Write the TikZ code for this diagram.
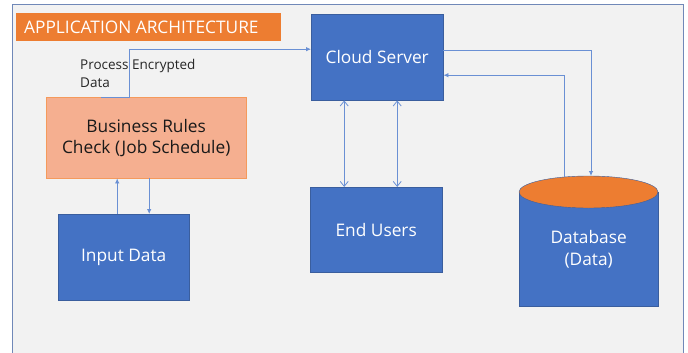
\documentclass[tikz,border=0pt]{standalone}
\usepackage{fontspec}
\setmainfont{Open Sans}
\usetikzlibrary{positioning}
\usetikzlibrary{arrows.meta}
\usetikzlibrary{shapes.geometric}

\definecolor{boxblue}{HTML}{4472C4}
\definecolor{boxedge}{HTML}{3A5E9E}
\definecolor{archorange}{HTML}{ED7D31}
\definecolor{rulesfill}{HTML}{F5AF90}
\definecolor{rulesedge}{HTML}{F59A5C}
\definecolor{linkblue}{HTML}{6A90D4}
\definecolor{panelgray}{HTML}{F2F2F2}
\definecolor{paneledge}{HTML}{7088B8}

\begin{document}
\begin{tikzpicture}[x=1pt, y=-1pt,
    bluebox/.style={rectangle, inner sep=0pt, draw=boxedge, fill=boxblue, text=white, align=center, font=\fontsize{17.3}{22}\selectfont},
    flow/.style={draw=linkblue, line width=0.8pt, -{Latex[length=5pt,width=4.5pt]}},
    twoway/.style={draw=linkblue, line width=0.8pt, {Straight Barb[length=5pt,width=8pt]}-{Straight Barb[length=5pt,width=8pt]}}]
    \useasboundingbox (0,0) rectangle (688,353);

    % panel
    \fill[panelgray] (12,5) rectangle (683,360);
    \draw[paneledge, line width=1pt] (12,360) -- (12,5) -- (683,5) -- (683,360);

    \node (title) [rectangle, anchor=north west, minimum width=265pt, minimum height=28pt, inner sep=0pt, fill=archorange] at (16,13) {};
    \node (titletext) [anchor=west, inner sep=0pt, text=white, font=\fontsize{17.3}{20}\selectfont] at (24,27) {APPLICATION ARCHITECTURE};

    \node (busi) [rectangle, anchor=north west, minimum width=200pt, minimum height=81pt, inner sep=0pt, draw=rulesedge, fill=rulesfill, text=black!90, align=center, font=\fontsize{17.3}{21}\selectfont] at (46,97) {Business Rules\\Check (Job Schedule)};
    \node (input) [bluebox, anchor=north west, minimum width=131pt, minimum height=86pt] at (58,214) {Input Data};
    \node (cloud) [bluebox, anchor=north west, minimum width=132pt, minimum height=86pt] at (311,14) {Cloud Server};
    \node (users) [bluebox, anchor=north west, minimum width=132pt, minimum height=85pt] at (310,187) {End Users};

    \node (db) [bluebox, anchor=north west, minimum width=139pt, minimum height=114pt] at (519,192) {Database\\(Data)};
    \node (dbtop) [ellipse, minimum width=139pt, minimum height=32pt, inner sep=0pt, draw=boxedge, fill=archorange] at (588.5,192) {};

    \node (proc) [anchor=north west, inner sep=0pt, align=left, text=black!85, font=\fontsize{13.5}{18}\selectfont] at (80,59) {Process Encrypted\\Data};

    \coordinate (procstart) at (101,97);
    \coordinate (procbend) at (129,97);
    \coordinate (dbin) at (591,176);
    \coordinate (dbout) at (564,177);

    \draw [flow] (procstart) -- (procbend) |- ([yshift=8pt]cloud.west);

    \draw [flow] ([xshift=-6.5pt]input.north) -- ([xshift=-6.5pt]input.north |- busi.south);
    \draw [flow] ([xshift=3pt]busi.south) -- ([xshift=3pt]busi.south |- input.north);

    \draw [twoway] ([xshift=-33pt]cloud.south) -- ([xshift=-33pt]cloud.south |- users.north);
    \draw [twoway] ([xshift=20pt]cloud.south) -- ([xshift=20pt]cloud.south |- users.north);

    \draw [flow] ([yshift=7pt]cloud.east) -| (dbin);
    \draw [flow] (dbout) |- ([yshift=-18pt]cloud.east);
\end{tikzpicture}
\end{document}
